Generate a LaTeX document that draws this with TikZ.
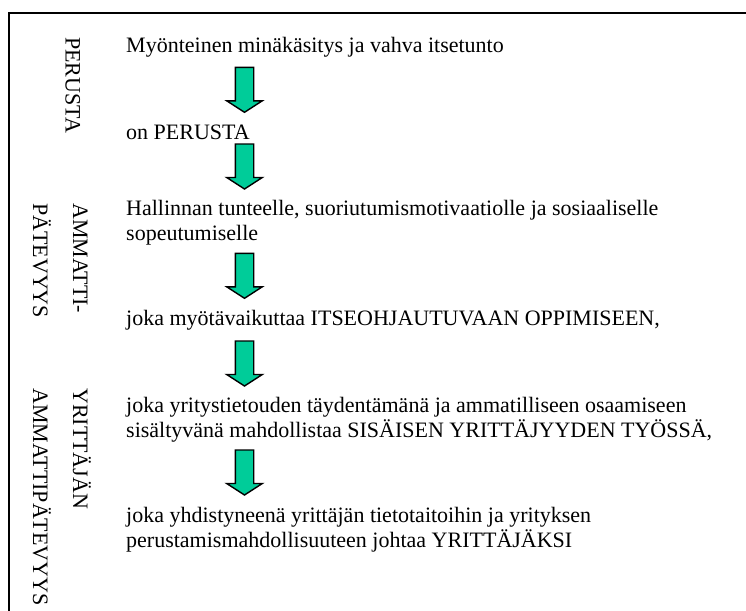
\documentclass[tikz,border=0pt]{standalone}
\usepackage{fontspec}
\setmainfont{Liberation Serif}
\definecolor{arrowgreen}{RGB}{0,204,153}
\begin{document}
\begin{tikzpicture}[x=1pt,y=-1pt,
  txt/.style={anchor=base west, inner sep=0pt, align=left, font=\fontsize{22}{25}\selectfont},
  side/.style={anchor=base west, inner sep=0pt, rotate=-90, align=left, font=\fontsize{22}{40}\selectfont},
  frameline/.style={line width=2pt},
  downarr/.pic={\draw[fill=arrowgreen, line width=1.4pt, line join=miter]
     (-9.2,0) -- (9.2,0) -- (9.2,33.5) -- (17.8,33.5) -- (0,45) -- (-17.8,33.5) -- (-9.2,33.5) -- cycle;}
]
\useasboundingbox (0,0) rectangle (746,610);
% frame (cut off at right and bottom)
\draw[frameline] (9.3,640) -- (9.3,13.3) -- (780,13.3);
% main texts (multi-line nodes: base = baseline of last line)
\node[txt] (t1) at (126,52.3) {Myönteinen minäkäsitys ja vahva itsetunto};
\node[txt] (t2) at (126,139) {on PERUSTA};
\node[txt] (t3) at (126,240.7) {Hallinnan tunteelle, suoriutumismotivaatiolle ja sosiaaliselle\\sopeutumiselle};
\node[txt] (t4) at (126,325) {joka myötävaikuttaa ITSEOHJAUTUVAAN OPPIMISEEN,};
\node[txt] (t5) at (126,437.7) {joka yritystietouden täydentämänä ja ammatilliseen osaamiseen\\sisältyvänä mahdollistaa SISÄISEN YRITTÄJYYDEN TYÖSSÄ,};
\node[txt] (t6) at (126,547.7) {joka yhdistyneenä yrittäjän tietotaitoihin ja yrityksen\\perustamismahdollisuuteen johtaa YRITTÄJÄKSI};
% arrows
\pic (a1) at (244.5,67.3) {downarr};
\pic (a2) at (244.5,144) {downarr};
\pic (a3) at (244.5,253.3) {downarr};
\pic (a4) at (244.5,341) {downarr};
\pic (a5) at (244.5,450) {downarr};
% side labels (base = baseline of last line)
\node[side] (s1) at (65.5,37) {PERUSTA};
\node[side] (s2) at (33,203) {AMMATTI-\\PÄTEVYYS};
\node[side] (s3) at (33,388) {YRITTÄJÄN\\AMMATTIPÄTEVYYS};
\end{tikzpicture}
\end{document}
